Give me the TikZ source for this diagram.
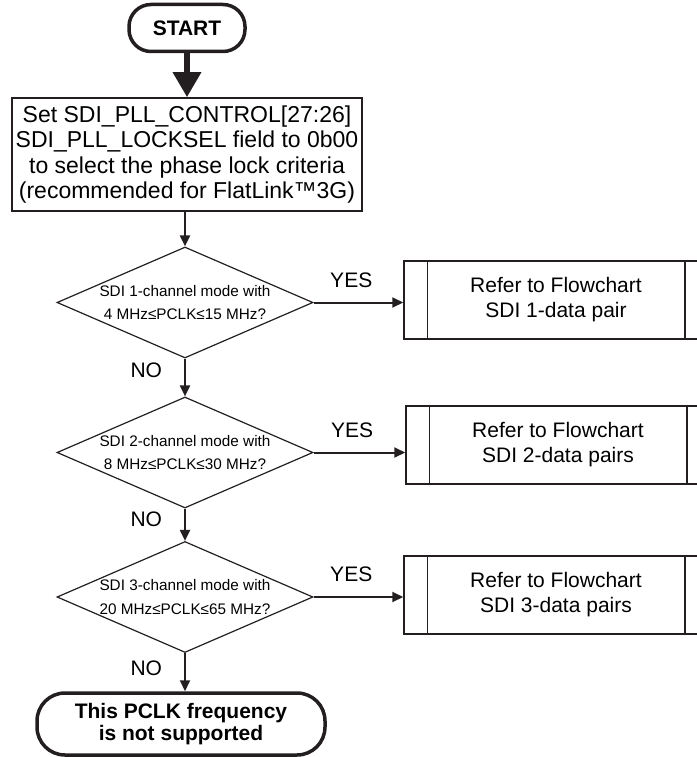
\documentclass[tikz,border=0pt]{standalone}
\usepackage{fontspec}
\setmainfont{Liberation Sans}
\usetikzlibrary{positioning,arrows.meta,shapes.geometric}
\definecolor{FlowInk}{RGB}{35,31,32}
\tikzset{
  flow/.style={-{Triangle[length=11pt,width=10pt]},line width=2pt,draw=FlowInk},
  bigflow/.style={-{Triangle[length=25pt,width=27pt]},line width=6pt,draw=FlowInk},
  terminal/.style={draw=FlowInk,line width=3.5pt,rounded corners=22pt,align=center,
    inner sep=0pt,font=\fontsize{21}{22}\selectfont\bfseries},
  setbox/.style={draw=FlowInk,line width=1.5pt,align=center,inner sep=0pt,
    minimum width=350pt,minimum height=113pt,font=\fontsize{23}{25.5}\selectfont},
  decision/.style={diamond,draw=FlowInk,line width=1.2pt,aspect=2.3,inner sep=0pt,
    minimum width=256pt,minimum height=111pt,align=center,
    font=\fontsize{15.3}{23.5}\selectfont},
  refbox/.style={draw=FlowInk,line width=1.5pt,align=center,inner sep=0pt,
    minimum width=304pt,minimum height=78pt,font=\fontsize{21}{25}\selectfont},
  answer/.style={inner sep=0pt,font=\fontsize{21}{25}\selectfont}
}

\begin{document}
\begin{tikzpicture}[x=1pt,y=-1pt]
  \useasboundingbox (0,0) rectangle (696,757);
  % main column
  \node[terminal,minimum width=116pt,minimum height=47pt] (start) at (187,28) {START};
  \node[setbox] (setup) at (187,154.5) {Set SDI\_PLL\_CONTROL[27:26]\\SDI\_PLL\_LOCKSEL field to 0b00\\to select the phase lock criteria\\(recommended for FlatLink™3G)};
  \node[decision] (q1) at (185,302.5) {SDI 1-channel mode with\\4 MHz≤PCLK≤15 MHz?};
  \node[decision] (q2) at (185,452.5) {SDI 2-channel mode with\\8 MHz≤PCLK≤30 MHz?};
  \node[decision] (q3) at (185,597) {SDI 3-channel mode with\\20 MHz≤PCLK≤65 MHz?};
  \node[terminal,rounded corners=28pt,minimum width=288pt,minimum height=62pt] (stop) at (181,724) {This PCLK frequency\\is not supported};
  % flowchart references
  \node[refbox] (ref1) at (556,300) {Refer to Flowchart\\SDI 1-data pair};
  \node[refbox] (ref2) at (558,445) {Refer to Flowchart\\SDI 2-data pairs};
  \node[refbox] (ref3) at (556,595) {Refer to Flowchart\\SDI 3-data pairs};
  \draw[line width=1.5pt,draw=FlowInk] ([xshift=24pt]ref1.north west) -- ([xshift=24pt]ref1.south west);
  \draw[line width=1.5pt,draw=FlowInk] ([xshift=-24pt]ref1.north east) -- ([xshift=-24pt]ref1.south east);
  \draw[line width=1.5pt,draw=FlowInk] ([xshift=24pt]ref2.north west) -- ([xshift=24pt]ref2.south west);
  \draw[line width=1.5pt,draw=FlowInk] ([xshift=-24pt]ref2.north east) -- ([xshift=-24pt]ref2.south east);
  \draw[line width=1.5pt,draw=FlowInk] ([xshift=24pt]ref3.north west) -- ([xshift=24pt]ref3.south west);
  \draw[line width=1.5pt,draw=FlowInk] ([xshift=-24pt]ref3.north east) -- ([xshift=-24pt]ref3.south east);
  % connectors
  \draw[bigflow] (start) -- (setup);
  \draw[flow] (setup.south -| q1.north) -- (q1.north);
  \draw[flow] (q1.south) -- (q2.north) node[answer,pos=0.31,left=22pt] {NO};
  \draw[flow] (q2.south) -- (q3.north) node[answer,pos=0.32,left=22pt] {NO};
  \draw[flow] (q3.south) -- (q3.south |- stop.north) node[answer,pos=0.4,left=22pt] {NO};
  \draw[flow] (q1.east) -- (q1.east -| ref1.west) node[answer,pos=0.42,above=14pt] {YES};
  \draw[flow] (q2.east) -- (q2.east -| ref2.west) node[answer,pos=0.42,above=14pt] {YES};
  \draw[flow] (q3.east) -- (q3.east -| ref3.west) node[answer,pos=0.42,above=14pt] {YES};
\end{tikzpicture}
\end{document}
